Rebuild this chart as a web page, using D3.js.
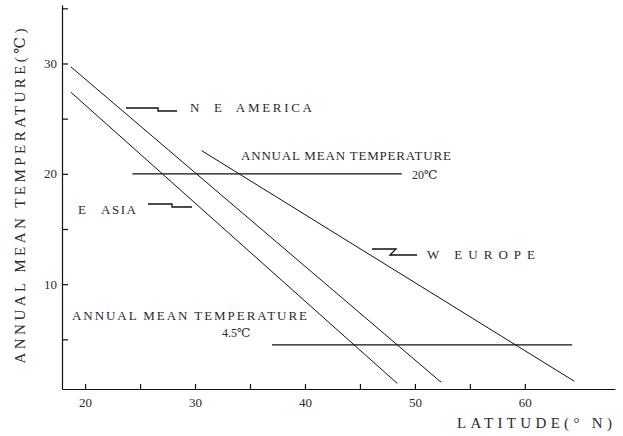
<!DOCTYPE html>
<html>
<head>
<meta charset="utf-8">
<script src="https://cdn.jsdelivr.net/npm/d3@7"></script>
<style>
  body { margin: 0; background: #fff; }
  svg { display: block; }
  text { font-family: "Liberation Serif", "DejaVu Serif", serif; fill: #2a2a2a; }
</style>
</head>
<body>
<div id="chart"></div>
<script>
// regional lines (latitude in °N, temperature in °C)
const regions = ["N  E  AMERICA", "E   ASIA", "W EUROPE"];
const latStart = [18.7, 18.7, 30.6];
const tempStart = [29.7, 27.4, 22.1];
const latEnd = [52.4, 48.4, 64.5];
const tempEnd = [1.1, 1.0, 1.2];

// isotherm reference lines
const isoTemps = [20, 4.5];
const isoLabels = ["20\u2103", "4.5\u2103"];
const isoLatFrom = [24.3, 37.0];
const isoLatTo = [48.8, 64.3];

// ticks
const xTicks = [20, 25, 30, 35, 40, 45, 50, 55, 60];
const xLabels = [20, 30, 40, 50, 60];
const yTicks = [5, 10, 15, 20, 25, 30, 35];
const yLabels = [10, 20, 30];

const width = 623;
const height = 436;

const svg = d3
  .select("#chart")
  .append("svg")
  .attr("width", width)
  .attr("height", height);

const x = d3.scaleLinear().domain([17.9, 68.2]).range([62, 615]);
const y = d3.scaleLinear().domain([0.5, 35.3]).range([389, 5]);

// Axes
const xAxis = svg
  .append("g")
  .attr("transform", `translate(0,${y(0.5)})`)
  .call(
    d3
      .axisBottom(x)
      .tickValues(xTicks)
      .tickSizeInner(-5)
      .tickSizeOuter(0)
      .tickPadding(9)
      .tickFormat((d) => (xLabels.includes(d) ? d : ""))
  );

const yAxis = svg
  .append("g")
  .attr("transform", `translate(${x(17.9)},0)`)
  .call(
    d3
      .axisLeft(y)
      .tickValues(yTicks)
      .tickSizeInner(-6)
      .tickSizeOuter(0)
      .tickPadding(5)
      .tickFormat((d) => (yLabels.includes(d) ? d : ""))
  );

[xAxis, yAxis].forEach((ax) => {
  ax.select(".domain").attr("stroke", "#111").attr("stroke-width", 1.2);
  ax.selectAll(".tick line").attr("stroke", "#111").attr("stroke-width", 1.2);
  ax.selectAll("text")
    .style("font-family", "'Liberation Serif', serif")
    .style("font-size", "13px")
    .attr("fill", "#444");
});

// Isotherms
svg
  .selectAll(".iso")
  .data(isoTemps)
  .enter()
  .append("line")
  .attr("class", "iso")
  .attr("x1", (d, i) => x(isoLatFrom[i]))
  .attr("x2", (d, i) => x(isoLatTo[i]))
  .attr("y1", (d) => y(d))
  .attr("y2", (d) => y(d))
  .attr("stroke", "#111")
  .attr("stroke-width", 1.4);

// Regional lines
svg
  .selectAll(".region")
  .data(regions)
  .enter()
  .append("line")
  .attr("class", "region")
  .attr("x1", (d, i) => x(latStart[i]))
  .attr("y1", (d, i) => y(tempStart[i]))
  .attr("x2", (d, i) => x(latEnd[i]))
  .attr("y2", (d, i) => y(tempEnd[i]))
  .attr("stroke", "#111")
  .attr("stroke-width", 1);

// Region labels with little break-style leaders
const regionLabelPos = [
  { tx: 190, ty: 112, len: 122, leader: "M126,108 H158 V111 H177" },
  { tx: 78, ty: 214, len: 58, leader: "M148,204 H172 V207 H192" },
  { tx: 427, ty: 259, len: 108, leader: "M372,249 H396 L390,255 H417" }
];

regions.forEach((name, i) => {
  const p = regionLabelPos[i];
  svg
    .append("path")
    .attr("d", p.leader)
    .attr("fill", "none")
    .attr("stroke", "#111")
    .attr("stroke-width", 1.3);
  svg
    .append("text")
    .attr("x", p.tx)
    .attr("y", p.ty)
    .attr("xml:space", "preserve")
    .attr("textLength", p.len)
    .attr("lengthAdjust", "spacing")
    .style("font-size", "13px")
    .text(name);
});

// Isotherm captions
const isoCaptionPos = [
  { tx: 241, ty: 160, len: 210, vx: 412, vy: 179 },
  { tx: 72, ty: 320, len: 235, vx: 222, vy: 337 }
];

isoTemps.forEach((t, i) => {
  const p = isoCaptionPos[i];
  svg
    .append("text")
    .attr("x", p.tx)
    .attr("y", p.ty)
    .attr("textLength", p.len)
    .attr("lengthAdjust", "spacing")
    .style("font-size", "13px")
    .text("ANNUAL MEAN TEMPERATURE");
  svg
    .append("text")
    .attr("x", p.vx)
    .attr("y", p.vy)
    .style("font-size", "12px")
    .attr("fill", "#444")
    .text(isoLabels[i]);
});

// Axis titles
svg
  .append("text")
  .attr("transform", "translate(25,196) rotate(-90)")
  .attr("text-anchor", "middle")
  .attr("textLength", 335)
  .attr("lengthAdjust", "spacing")
  .style("font-size", "15px")
  .text("ANNUAL MEAN TEMPERATURE(\u2103)");

svg
  .append("text")
  .attr("x", 457)
  .attr("y", 428)
  .attr("textLength", 155)
  .attr("lengthAdjust", "spacing")
  .style("font-size", "15px")
  .text("LATITUDE(\u00b0 N)");
</script>
</body>
</html>
